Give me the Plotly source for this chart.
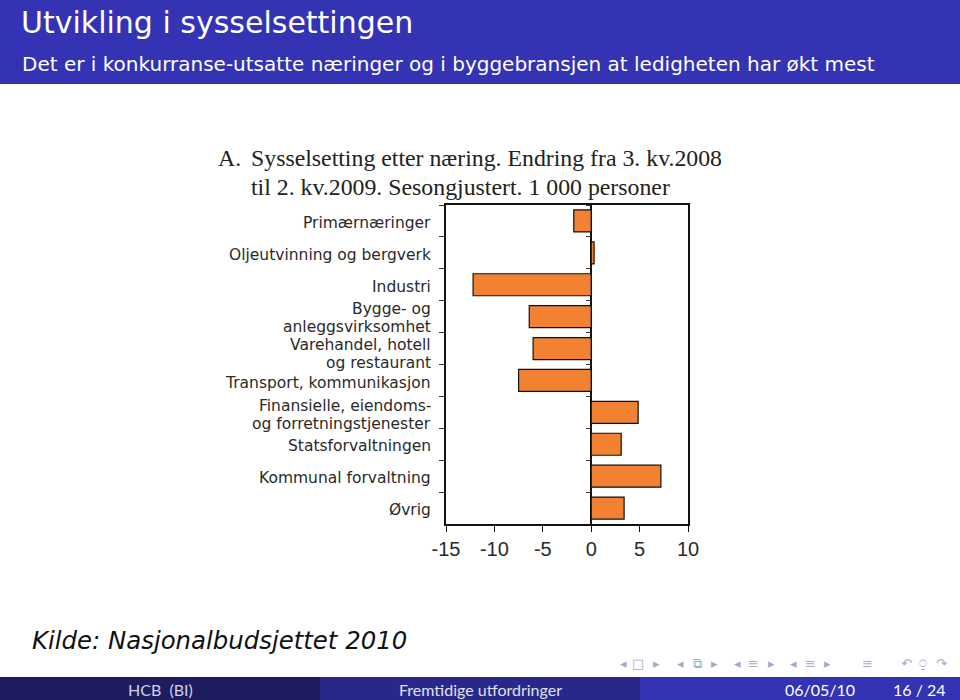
import plotly.graph_objects as go

# ---------------- data ----------------
categories = [
    "Primærnæringer",
    "Oljeutvinning og bergverk",
    "Industri",
    "Bygge- og<br>anleggsvirksomhet",
    "Varehandel, hotell<br>og restaurant",
    "Transport, kommunikasjon",
    "Finansielle, eiendoms-<br>og forretningstjenester",
    "Statsforvaltningen",
    "Kommunal forvaltning",
    "Øvrig",
]
values = [-1.8, 0.3, -12.2, -6.4, -6.0, -7.5, 4.85, 3.1, 7.2, 3.4]
x_tickvals = [-15, -10, -5, 0, 5, 10]
x_ticktext = ["-15", "-10", "-5", "0", "5", "10"]
x_range = [-15, 10]

W, H = 960, 700


def px(x):
    return x / W


def py(y):
    return 1 - y / H


n = len(categories)
# plot area in pixels
PL, PR, PT, PB = 446, 688, 205, 524
xdom = [px(PL), px(PR)]
ydom = [py(PB), py(PT)]
zero_pos = xdom[0] + (0 - x_range[0]) / (x_range[1] - x_range[0]) * (xdom[1] - xdom[0])

fig = go.Figure()
fig.add_trace(go.Bar(
    x=values, y=categories, orientation="h",
    marker=dict(color="#F08232", line=dict(color="#111111", width=1.2)),
    hoverinfo="x+y",
))
# invisible helper trace for the tick axis drawn along the zero line
fig.add_trace(go.Scatter(
    x=[0] * n, y=categories, yaxis="y2", mode="markers",
    marker=dict(opacity=0), hoverinfo="skip", showlegend=False,
))

fig.update_layout(
    width=W, height=H,
    margin=dict(l=0, r=0, t=0, b=0, pad=0, autoexpand=False),
    paper_bgcolor="white", plot_bgcolor="white",
    showlegend=False,
    bargap=0.31,
    xaxis=dict(
        domain=xdom, range=x_range, tickvals=x_tickvals, ticktext=x_ticktext,
        showgrid=False, zeroline=True, zerolinecolor="#111111", zerolinewidth=1.5,
        showline=True, linecolor="#111111", linewidth=1.5, mirror=True,
        ticks="outside", ticklen=6, tickcolor="#111111", tickwidth=1.2,
        tickfont=dict(family="Liberation Sans, Arial, sans-serif", size=20, color="#2a2a2a"),
        anchor="y", automargin=False,
    ),
    yaxis=dict(
        domain=ydom, type="category", categoryorder="array", categoryarray=categories,
        range=[n - 0.5, -0.5],
        showgrid=False, showline=True, linecolor="#111111", linewidth=1.5, mirror=True,
        ticks="outside", tickson="boundaries", ticklen=5, tickcolor="#333333", tickwidth=1.2,
        showticklabels=False,
        anchor="x", automargin=False,
    ),
    yaxis2=dict(
        overlaying="y", anchor="free", position=zero_pos, side="left",
        type="category", categoryorder="array", categoryarray=categories,
        range=[n - 0.5, -0.5],
        showgrid=False, showline=False, showticklabels=False,
        ticks="outside", tickson="boundaries", ticklen=5, tickcolor="#333333", tickwidth=1.2,
        automargin=False,
    ),
)

shapes = [
    # beamer title bar
    dict(type="rect", xref="paper", yref="paper", x0=0, x1=1, y0=py(84), y1=1,
         fillcolor="#3333B3", line=dict(width=0), layer="below"),
    # footer segments
    dict(type="rect", xref="paper", yref="paper", x0=0, x1=px(320), y0=0, y1=py(677),
         fillcolor="#1C1C5E", line=dict(width=0), layer="below"),
    dict(type="rect", xref="paper", yref="paper", x0=px(320), x1=px(640), y0=0, y1=py(677),
         fillcolor="#28288A", line=dict(width=0), layer="below"),
    dict(type="rect", xref="paper", yref="paper", x0=px(640), x1=1, y0=0, y1=py(677),
         fillcolor="#3333B3", line=dict(width=0), layer="below"),
]

annotations = []


def txt(s, x, y, size, color, family, xanchor="left", yanchor="middle"):
    annotations.append(dict(text=s, x=px(x), y=py(y), xref="paper", yref="paper",
                            xanchor=xanchor, yanchor=yanchor, showarrow=False,
                            font=dict(size=size, color=color, family=family)))


sans = "DejaVu Sans, sans-serif"
serif = "Liberation Serif, Times New Roman, serif"

# category labels (right-aligned, tight line spacing like the original)
LINE = 18          # px between label lines
LABEL_DY = 2       # general downward nudge of the labels (px)
label_nudge = {3: -1, 4: 3, 5: 1, 6: 1}  # extra downward nudges (px), as in the original
for idx, cat in enumerate(categories):
    lines = cat.split("<br>")
    k = len(lines)
    for i, line in enumerate(lines):
        annotations.append(dict(
            text=line, x=px(432), xref="paper", y=cat, yref="y",
            xanchor="right", yanchor="middle", showarrow=False, borderpad=0,
            yshift=((k - 1) / 2 - i) * LINE - LABEL_DY - label_nudge.get(idx, 0),
            font=dict(size=15.5, color="#2a2a2a", family=sans)))

txt("Utvikling i sysselsettingen", 19, 22, 30, "white", sans)
txt("Det er i konkurranse-utsatte næringer og i byggebransjen at ledigheten har økt mest", 20, 64, 20, "white", sans)

txt("A.", 216, 158, 23.8, "#222222", serif)
txt("Sysselsetting etter næring. Endring fra 3. kv.2008", 249, 158, 23.8, "#222222", serif)
txt("til 2. kv.2009. Sesongjustert. 1 000 personer", 249, 187, 23.8, "#222222", serif)

txt("<i>Kilde: Nasjonalbudsjettet 2010</i>", 30, 640, 24.4, "#111111", sans)

foot = "Lato, Open Sans, sans-serif"
txt("HCB  (BI)", 160, 689, 16, "#D0D0E8", foot, xanchor="center")
txt("Fremtidige utfordringer", 480, 689, 16, "#E0E0F0", foot, xanchor="center")
txt("06/05/10", 820, 689, 16, "white", foot, xanchor="center")
txt("16 / 24", 919, 689, 16, "white", foot, xanchor="center")

nav = [("◂", 623), ("□", 638), ("▸", 656), ("◂", 680), ("⧉", 697), ("▸", 714),
       ("◂", 737), ("≡", 753), ("▸", 771), ("◂", 793), ("≡", 810), ("▸", 827),
       ("≡", 867), ("↶", 906), ("⍜", 923), ("↷", 942)]
for s, x in nav:
    txt(s, x, 663, 13, "#A8A8C8", "DejaVu Sans", xanchor="center")

fig.update_layout(shapes=shapes, annotations=annotations)

fig.write_html("out.html")
